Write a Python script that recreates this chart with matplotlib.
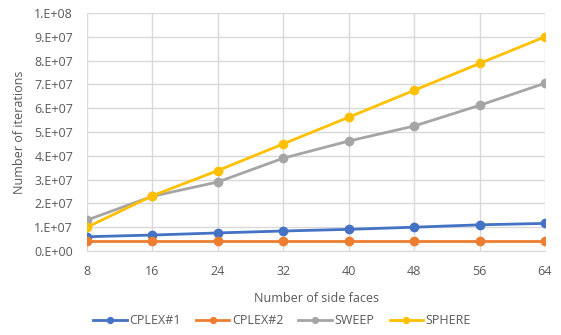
import matplotlib
matplotlib.use("Agg")
import matplotlib.pyplot as plt
from matplotlib.ticker import FuncFormatter

x = [8, 16, 24, 32, 40, 48, 56, 64]
cplex1 = [0.60e7, 0.67e7, 0.76e7, 0.84e7, 0.91e7, 1.00e7, 1.10e7, 1.16e7]
cplex2 = [0.40e7, 0.40e7, 0.40e7, 0.40e7, 0.40e7, 0.40e7, 0.40e7, 0.40e7]
sweep = [1.30e7, 2.30e7, 2.90e7, 3.90e7, 4.62e7, 5.25e7, 6.12e7, 7.05e7]
sphere = [1.00e7, 2.32e7, 3.38e7, 4.50e7, 5.62e7, 6.75e7, 7.88e7, 9.00e7]
names = ["CPLEX#1", "CPLEX#2", "SWEEP", "SPHERE"]
colors = ["#4472C4", "#ED7D31", "#A5A5A5", "#FFC000"]

def fmt(v, p):
    if v <= 0:
        return "0.E+00"
    e = len(str(int(round(v)))) - 1
    m = int(round(v / 10**e))
    return f"{m}.E+{e:02d}"

plt.rcParams['font.family'] = ['Open Sans', 'DejaVu Sans']
fig = plt.figure(figsize=(5.61, 3.35), dpi=100)
ax = fig.add_axes([87/561, 1-251/335, (545-87)/561, (251-13)/335])

for ys, n, c in zip([cplex1, cplex2, sweep, sphere], names, colors):
    ax.plot(x, ys, color=c, marker='o', markersize=6, linewidth=2, label=n, zorder=3)

ax.set_xlim(8, 64)
ax.set_ylim(0, 1e8)
ax.set_xticks(x)
ax.set_yticks([i*1e7 for i in range(11)])
ax.yaxis.set_major_formatter(FuncFormatter(fmt))
ax.grid(True, color='#D9D9D9', linewidth=1)
ax.set_axisbelow(True)
for s in ['top', 'right', 'left']:
    ax.spines[s].set_visible(False)
ax.spines['bottom'].set_color('#D9D9D9')
ax.tick_params(length=0, colors='#595959', labelsize=9)
ax.tick_params(axis='x', pad=10)
ax.tick_params(axis='y', pad=10)
ax.set_xlabel("Number of side faces", color='#595959', fontsize=9, labelpad=10)
ax.set_ylabel("Number of iterations", color='#595959', fontsize=9, labelpad=6)
fig.legend(loc='center', bbox_to_anchor=(282/561, 1-321/335), ncol=4, frameon=False,
           fontsize=9, labelcolor='#595959', handlelength=2.7, columnspacing=1.2,
           handletextpad=0.2, markerscale=0.7)
fig.savefig("out.png", dpi=100)
